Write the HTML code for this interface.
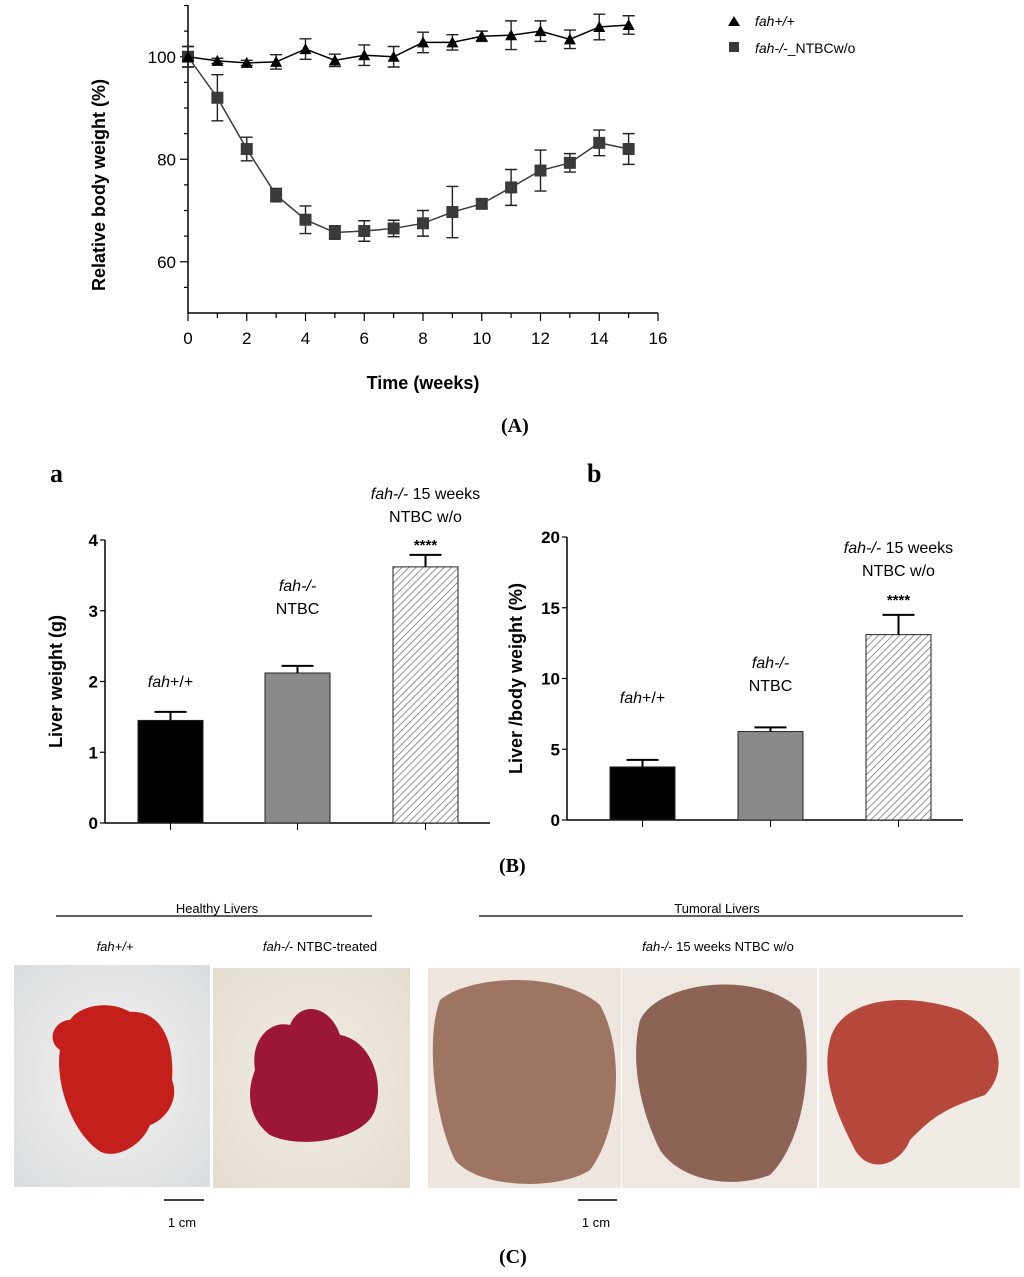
<!DOCTYPE html>
<html><head><meta charset="utf-8"><style>
body{margin:0;background:#fff}
svg{display:block;font-family:"Liberation Sans",sans-serif}
</style></head><body>
<svg id="fig" width="1024" height="1277" viewBox="0 0 1024 1277" xmlns="http://www.w3.org/2000/svg">
<defs>
<pattern id="hatch" width="5" height="5" patternUnits="userSpaceOnUse" patternTransform="rotate(45)">
<rect width="5" height="5" fill="#fff"/><line x1="0" y1="0" x2="0" y2="5" stroke="#777" stroke-width="1.6"/></pattern>
<radialGradient id="bg1" cx="50%" cy="50%" r="70%"><stop offset="0" stop-color="#f4f2ee"/><stop offset="1" stop-color="#d9dde0"/></radialGradient>
<radialGradient id="bg2" cx="50%" cy="50%" r="70%"><stop offset="0" stop-color="#f3eee4"/><stop offset="1" stop-color="#e3ddcf"/></radialGradient>
</defs>
<g id="chartA"></g>
<g id="legendA">
<polygon points="734,16 740,26 728,26" fill="#000"/>
<text x="755" y="26" font-size="14" font-style="italic">fah+/+</text>
<rect x="729" y="42" width="10" height="10" fill="#3a3a3a"/>
<text x="755" y="53" font-size="14"><tspan font-style="italic">fah-/-</tspan>_NTBCw/o</text>
</g>
<text x="501" y="432" font-family="Liberation Serif" font-size="20" font-weight="bold">(A)</text>
<text x="50" y="482" font-family="Liberation Serif" font-size="26" font-weight="bold">a</text>
<text x="587" y="482" font-family="Liberation Serif" font-size="26" font-weight="bold">b</text>
<g id="chartBa"></g>
<g id="chartBb"></g>
<text x="499" y="872" font-family="Liberation Serif" font-size="20" font-weight="bold">(B)</text>

<g font-size="13">
<text x="217" y="913" text-anchor="middle">Healthy Livers</text>
<line x1="56" y1="916" x2="372" y2="916" stroke="#000" stroke-width="1.3"/>
<text x="717" y="913" text-anchor="middle">Tumoral Livers</text>
<line x1="479" y1="916" x2="963" y2="916" stroke="#000" stroke-width="1.3"/>
<text x="115" y="951" text-anchor="middle" font-style="italic">fah+/+</text>
<text x="320" y="951" text-anchor="middle"><tspan font-style="italic">fah-/-</tspan> NTBC-treated</text>
<text x="718" y="951" text-anchor="middle"><tspan font-style="italic">fah-/-</tspan> 15 weeks  NTBC w/o</text>
<rect x="14" y="965" width="196" height="222" fill="url(#bg1)"/>
<path d="M70,1020 C80,1005 110,1000 130,1012 C160,1010 175,1040 172,1080 C180,1100 165,1120 150,1125 C140,1150 110,1160 98,1150 C70,1130 55,1080 60,1050 C45,1040 55,1020 70,1020Z" fill="#c41f1a"/>
<rect x="213" y="968" width="197" height="220" fill="url(#bg2)"/>
<path d="M255,1070 C250,1040 270,1020 290,1025 C300,1000 330,1005 340,1035 C370,1040 385,1080 375,1110 C365,1140 300,1150 270,1135 C250,1120 245,1095 255,1070Z" fill="#9c1733"/>
<rect x="428" y="968" width="193" height="220" fill="#efe6df"/>
<path d="M440,1000 C470,975 560,970 600,1005 C625,1050 620,1130 590,1170 C560,1190 480,1190 455,1160 C435,1120 425,1040 440,1000Z" fill="#9e7462"/>
<rect x="622" y="968" width="195" height="220" fill="#efe8e2"/>
<path d="M640,1020 C660,980 760,970 800,1010 C815,1060 805,1140 770,1175 C730,1190 680,1180 660,1150 C640,1110 630,1060 640,1020Z" fill="#8c6355"/>
<rect x="819" y="968" width="201" height="220" fill="#f1ebe5"/>
<path d="M830,1040 C840,1000 900,990 960,1010 C1000,1030 1010,1070 985,1095 C940,1110 930,1120 910,1140 C900,1165 870,1175 855,1150 C840,1120 820,1080 830,1040Z" fill="#b5483a"/>
<line x1="164" y1="1200" x2="204" y2="1200" stroke="#000" stroke-width="1.5"/>
<text x="182" y="1227" text-anchor="middle">1 cm</text>
<line x1="578" y1="1200" x2="617" y2="1200" stroke="#000" stroke-width="1.5"/>
<text x="596" y="1227" text-anchor="middle">1 cm</text>
</g>
<text x="499" y="1263" font-family="Liberation Serif" font-size="20" font-weight="bold">(C)</text>
</svg>
<script>
const weeks=[0,1,2,3,4,5,6,7,8,9,10,11,12,13,14,15];
const wtMean=[100,99.2,98.8,99,101.5,99.3,100.3,100,102.8,102.8,104,104.2,105,103.4,105.8,106.2];
const wtErr=[2,0.5,0.5,1.4,2,1.2,2,2,2,1.5,1,2.8,2,1.8,2.5,1.8];
const koMean=[100,92,82,73,68.2,65.7,66,66.5,67.5,69.7,71.3,74.5,77.8,79.3,83.2,82];
const koErr=[2,4.5,2.3,1.3,2.7,1.3,2,1.6,2.5,5,0.8,3.5,4,1.8,2.5,3];
const xTicksA=[0,2,4,6,8,10,12,14,16];
const yTicksA=[60,80,100];
const barGroups=["fah+/+","fah-/- NTBC","fah-/- 15 weeks NTBC w/o"];
const liverWeight=[1.45,2.12,3.62];
const liverWeightErr=[0.12,0.1,0.17];
const liverRatio=[3.75,6.25,13.1];
const liverRatioErr=[0.5,0.3,1.4];
const yTicksBa=[0,1,2,3,4];
const yTicksBb=[0,5,10,15,20];

const NS="http://www.w3.org/2000/svg";
function el(parent,tag,attrs,text){const e=document.createElementNS(NS,tag);for(const k in attrs)e.setAttribute(k,attrs[k]);if(text!==undefined)e.textContent=text;parent.appendChild(e);return e;}

// Chart A
(function(){
const g=document.getElementById('chartA');
const x=v=>188+v*29.375, y=v=>313-(v-50)*5.125;
let ax=el(g,'line',{x1:188,y1:5,x2:188,y2:313,stroke:'#000','stroke-width':1.5});


let bx=el(g,'line',{x1:188,y1:313,x2:658,y2:313,stroke:'#000','stroke-width':1.5});


for(let v=55;v<=110;v+=5){el(g,'line',{x1:v%20==0?180:184,y1:y(v),x2:188,y2:y(v),stroke:'#000','stroke-width':1.2});}
for(let v=0;v<=16;v+=1){el(g,'line',{x1:x(v),y1:313,x2:x(v),y2:v%2==0?321:318,stroke:'#000','stroke-width':1.2});}
yTicksA.forEach(v=>{const t=el(g,'text',{x:176,y:y(v)+6,'text-anchor':'end','font-size':17},v);

});
xTicksA.forEach(v=>{const t=el(g,'text',{x:x(v),y:344,'text-anchor':'middle','font-size':17},v);

});
const xt=el(g,'text',{x:423,y:389,'text-anchor':'middle','font-size':18,'font-weight':'bold'},'Time (weeks)');


const yt=el(g,'text',{x:0,y:0,'text-anchor':'middle','font-size':18,'font-weight':'bold',transform:'translate(105,185) rotate(-90)'},'Relative body weight (%)');


function series(mean,err,color,kind,name){
 const pts=weeks.map((w,i)=>x(w)+','+y(mean[i])).join(' ');
 const l=el(g,'polyline',{points:pts,fill:'none',stroke:color,'stroke-width':1.5});
 
 
 weeks.forEach((w,i)=>{
  const cx=x(w),cy=y(mean[i]),t=y(mean[i]+err[i]),b=y(mean[i]-err[i]);
  el(g,'path',{d:`M${cx},${t}V${b}M${cx-6},${t}H${cx+6}M${cx-6},${b}H${cx+6}`,stroke:'#222','stroke-width':1.4,fill:'none'});
  let m;
  if(kind==='tri') m=el(g,'polygon',{points:`${cx},${cy-6} ${cx+6},${cy+5} ${cx-6},${cy+5}`,fill:color});
  else m=el(g,'rect',{x:cx-6,y:cy-6,width:12,height:12,fill:color});
  
  
 });
}
series(koMean,koErr,'#3a3a3a','sq','ko');
series(wtMean,wtErr,'#000','tri','wt');
})();

function barChart(id,x0,x1,y0,pxPer,ticks,vals,errs,bars,title,labelY,titleX){
 const g=document.getElementById(id);
 const y=v=>y0-v*pxPer;
 const top=y(ticks[ticks.length-1]);
 el(g,'line',{x1:x0,y1:top,x2:x0,y2:y0,stroke:'#000','stroke-width':1.5});
 el(g,'line',{x1:x0,y1:y0,x2:x1,y2:y0,stroke:'#000','stroke-width':1.5});
 ticks.forEach(v=>{el(g,'line',{x1:x0-5,y1:y(v),x2:x0,y2:y(v),stroke:'#000','stroke-width':1.2});
  const t=el(g,'text',{x:x0-7,y:y(v)+6,'text-anchor':'end','font-size':17,'font-weight':'bold'},v);
  
  });
 const fills=['#000','#8a8a8a','url(#hatch)'];
 vals.forEach((v,i)=>{
  const bx=bars[i];
  const r=el(g,'rect',{x:bx,y:y(v),width:65,height:y0-y(v),fill:fills[i],stroke:'#222','stroke-width':1});
  
  
  const cx=bx+32.5,t=y(v+errs[i]);
  el(g,'path',{d:`M${cx},${y(v)}V${t}M${cx-16},${t}H${cx+16}`,stroke:'#000','stroke-width':2,fill:'none'});
  el(g,'line',{x1:cx,y1:y0,x2:cx,y2:y0+7,stroke:'#000','stroke-width':1});
 });
 const yt=el(g,'text',{x:0,y:0,'text-anchor':'middle','font-size':18,'font-weight':'bold',transform:`translate(${titleX},${(top+y0)/2}) rotate(-90)`},title);
 
 
 const L=(tx,ty,it,rest)=>{const t=el(g,'text',{x:tx,y:ty,'text-anchor':'middle','font-size':16});
  el(t,'tspan',{'font-style':'italic'},it);el(t,'tspan',{},rest);
  
  return t;};
 const c=bars.map(b=>b+32.5);
 L(c[0],labelY[0],'fah','+/+');
 L(c[1],labelY[1],'fah-/-','');
 el(g,'text',{x:c[1],y:labelY[1]+23,'text-anchor':'middle','font-size':16},'NTBC');
 L(c[2],labelY[2],'fah-/-',' 15 weeks');
 el(g,'text',{x:c[2],y:labelY[2]+23,'text-anchor':'middle','font-size':16},'NTBC w/o');
 el(g,'text',{x:c[2],y:labelY[3],'text-anchor':'middle','font-size':15,'font-weight':'bold'},'****');
}
barChart('chartBa',105,490,823,70.75,yTicksBa,liverWeight,liverWeightErr,[138,265,393],'Liver weight (g)',[687,591,499,550],62);
barChart('chartBb',567,963,820,14.15,yTicksBb,liverRatio,liverRatioErr,[610,738,866],'Liver /body weight (%)',[703,668,553,605],522);
</script>
</body></html>
